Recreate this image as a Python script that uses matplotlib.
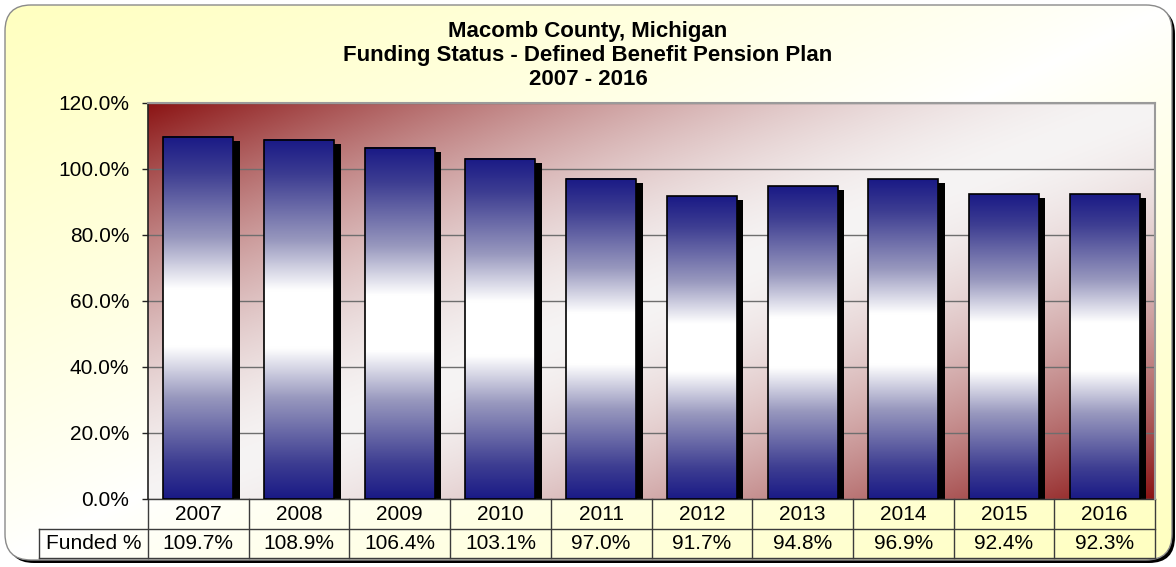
import numpy as np
import matplotlib.pyplot as plt
from matplotlib.colors import LinearSegmentedColormap, to_rgb
from matplotlib.patches import FancyBboxPatch
from matplotlib.transforms import blended_transform_factory

# data
years = ['2007', '2008', '2009', '2010', '2011', '2012', '2013', '2014', '2015', '2016']
funded = [109.7, 108.9, 106.4, 103.1, 97.0, 91.7, 94.8, 96.9, 92.4, 92.3]
yticks = [0, 20, 40, 60, 80, 100, 120]
row_label = 'Funded %'
title_lines = ['Macomb County, Michigan',
               'Funding Status - Defined Benefit Pension Plan',
               '2007 - 2016']

W, H = 1176, 567
plt.rcParams['font.family'] = ['Liberation Sans', 'DejaVu Sans']


def diag_gradient(c_corner, c_mid, nx=400, ny=200, power=1.0):
    # corner colour at top-left / bottom-right, mid colour along the other diagonal
    u = np.linspace(0, 1, nx)[None, :]
    v = np.linspace(0, 1, ny)[:, None]
    d = np.abs((u + v) / 2 - 0.5) * 2
    d = d ** power
    c0 = np.array(to_rgb(c_mid))
    c1 = np.array(to_rgb(c_corner))
    return c0 * (1 - d[..., None]) + c1 * d[..., None]


fig = plt.figure(figsize=(W / 100, H / 100), dpi=100)
fig.patch.set_facecolor('white')

# outer rounded frame, pixel coords (y down)
bg = fig.add_axes([0, 0, 1, 1])
bg.axis('off')
fx0, fy0, fx1, fy1 = 5, 5, 1172, 560
shadow = FancyBboxPatch((fx0 + 3, fy0 + 3), fx1 - fx0, fy1 - fy0,
                        boxstyle='round,pad=0,rounding_size=26', fc='black', ec='none', zorder=0)
bg.add_patch(shadow)
frame = FancyBboxPatch((fx0, fy0), fx1 - fx0, fy1 - fy0,
                       boxstyle='round,pad=0,rounding_size=26', fc='none', ec='#8a8a8a', lw=1, zorder=3)
bg.add_patch(frame)
im = bg.imshow(diag_gradient('#FFFFC0', '#FFFFFF', power=0.8), extent=(fx0, fx1, fy1, fy0),
               aspect='auto', interpolation='bilinear', zorder=1)
im.set_clip_path(frame)
bg.set_xlim(0, W)
bg.set_ylim(H, 0)

# title
for line, base in zip(title_lines, [37, 61, 85]):
    fig.text(0.5, 1 - base / H, line, ha='center', va='baseline',
             fontsize=16, fontweight='bold', color='black')

# plot area
ax = fig.add_axes([148 / W, 68 / H, 1007 / W, 396 / H])
ax.patch.set_visible(False)
x = np.arange(len(years))
ax.imshow(diag_gradient('#8B1414', '#F6F4F4', power=1.6), extent=(-0.5, len(years) - 0.5, 0, 120),
          aspect='auto', interpolation='bilinear', zorder=0)

bar_w = 0.695
cmap = LinearSegmentedColormap.from_list(
    'barg', [(0.0, '#1A1A86'), (0.1, '#3E3E92'), (0.28, '#9898BE'), (0.42, '#FFFFFF'),
             (0.58, '#FFFFFF'), (0.72, '#9898BE'), (0.9, '#3E3E92'), (1.0, '#1A1A86')])
grad = np.linspace(0, 1, 256).reshape(-1, 1)

# shadows
ax.bar(x + 0.065, funded, width=bar_w, bottom=-1.2, color='black', zorder=2)
bars = ax.bar(x, funded, width=bar_w, fc='none', ec='black', lw=1.2, zorder=4)
for b in bars:
    bx = b.get_x()
    ax.imshow(grad, cmap=cmap, extent=(bx, bx + b.get_width(), 0, b.get_height()),
              aspect='auto', interpolation='bilinear', zorder=3)

ax.set_xlim(-0.5, len(years) - 0.5)
ax.set_ylim(0, 120)
ax.set_axisbelow(True)
ax.yaxis.grid(True, color='#6e6e6e', lw=1)
ax.set_yticks(yticks)
ax.set_yticklabels([f'{t:.1f}%' for t in yticks])
ax.set_xticks([])
ax.tick_params(axis='y', length=4.5, width=1, pad=9, labelsize=15, color='#222222')

ax.spines['left'].set_color('#222222')
ax.spines['left'].set_linewidth(1.2)
for s in ['top', 'right']:
    ax.spines[s].set_color('#9a9a9a')
    ax.spines[s].set_linewidth(1.5)
ax.spines['bottom'].set_visible(False)

# data table under the axis (x in data units, y in axes units)
tr = blended_transform_factory(ax.transData, ax.transAxes)
row1 = 30 / 396
row2 = 59 / 396
lab_w = 109 / 100.7
line_kw = dict(color='#3c3c3c', lw=1, transform=tr, clip_on=False)
left, right = -0.5, len(years) - 0.5
ax.plot([left, right], [0, 0], **line_kw)
ax.plot([left - lab_w, right], [-row1, -row1], **line_kw)
ax.plot([left - lab_w, right], [-row2, -row2], **line_kw)
for i in range(len(years) + 1):
    ax.plot([i - 0.5, i - 0.5], [0, -row2], **line_kw)
ax.plot([left - lab_w, left - lab_w], [-row1, -row2], **line_kw)
ax.text(left - lab_w / 2, -(row1 + row2) / 2, row_label, transform=tr,
        ha='center', va='center', fontsize=15)
for i, (yr, v) in enumerate(zip(years, funded)):
    ax.text(i, -row1 / 2, yr, transform=tr, ha='center', va='center', fontsize=15)
    ax.text(i, -(row1 + row2) / 2, f'{v:.1f}%', transform=tr, ha='center', va='center', fontsize=15)

fig.savefig('out.png', dpi=100)
